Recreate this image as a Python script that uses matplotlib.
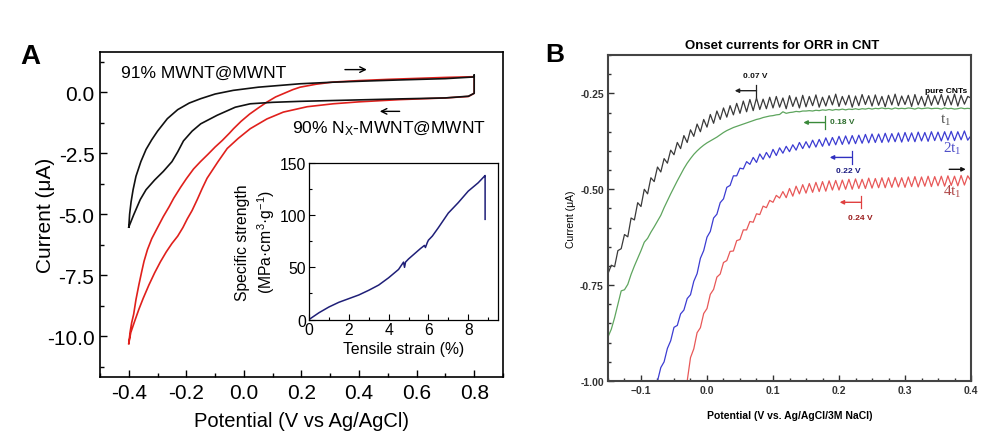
import numpy as np
import matplotlib
matplotlib.use("Agg")
import matplotlib.pyplot as plt
from matplotlib.ticker import MultipleLocator

plt.rcParams['font.family'] = ['Liberation Sans', 'DejaVu Sans']
plt.rcParams['mathtext.default'] = 'regular'

# ---- Panel A: cyclic voltammograms (V vs Ag/AgCl, uA)
black_v = [-0.400, -0.397, -0.392, -0.385, -0.375, -0.358, -0.340, -0.320, -0.300, -0.266, -0.230,
           -0.190, -0.150, -0.100, -0.037, 0.050, 0.195, 0.300, 0.420, 0.550, 0.700, 0.800,
           0.800, 0.800, 0.780,
           0.700, 0.540, 0.400, 0.195, 0.100, 0.022, -0.030, -0.093, -0.150, -0.180, -0.210,
           -0.230, -0.250, -0.280, -0.310, -0.340, -0.360, -0.383, -0.400]
black_i = [-5.53, -5.0, -4.5, -4.0, -3.45, -2.85, -2.35, -1.95, -1.6, -1.09, -0.72,
           -0.45, -0.27, -0.08, 0.07, 0.2, 0.34, 0.40, 0.45, 0.5, 0.55, 0.62,
           0.70, -0.05, -0.17,
           -0.24, -0.28, -0.32, -0.38, -0.42, -0.48, -0.62, -0.95, -1.3, -1.6, -2.0,
           -2.45, -2.85, -3.25, -3.6, -4.0, -4.4, -5.03, -5.53]

red_v = [-0.400, -0.395, -0.390, -0.383, -0.375, -0.365, -0.355, -0.347, -0.335, -0.320, -0.301,
         -0.280, -0.260, -0.244, -0.220, -0.200, -0.175, -0.151, -0.125, -0.100, -0.075, -0.050,
         -0.036, -0.010, 0.020, 0.050, 0.080, 0.110, 0.140, 0.170, 0.195, 0.250, 0.310, 0.400,
         0.500, 0.600, 0.700, 0.800,
         0.800, 0.800, 0.780,
         0.700, 0.540, 0.400, 0.310, 0.220, 0.137, 0.080, 0.022, -0.020, -0.058, -0.090, -0.128,
         -0.145, -0.162, -0.180, -0.197, -0.212, -0.230, -0.250, -0.270, -0.290, -0.310, -0.330,
         -0.350, -0.365, -0.380, -0.393, -0.400]
red_i = [-10.3, -9.8, -9.45, -9.1, -8.5, -7.9, -7.35, -6.93, -6.45, -6.0, -5.57,
         -5.1, -4.7, -4.35, -3.9, -3.55, -3.15, -2.85, -2.55, -2.25, -1.98, -1.68,
         -1.5, -1.2, -0.9, -0.65, -0.41, -0.2, -0.05, 0.1, 0.2, 0.32, 0.41, 0.47,
         0.52, 0.56, 0.6, 0.63,
         0.66, -0.05, -0.18,
         -0.24, -0.31, -0.40, -0.48, -0.60, -0.82, -1.10, -1.50, -1.90, -2.31, -2.85, -3.53,
         -3.95, -4.4, -4.85, -5.2, -5.55, -5.9, -6.2, -6.55, -6.95, -7.4, -7.9,
         -8.45, -8.9, -9.4, -9.85, -10.3]

# inset: specific strength vs tensile strain
strain = [0, 0.5, 1.0, 1.5, 2.0, 2.5, 3.0, 3.5, 4.0, 4.5, 4.75, 4.8, 4.85, 5.0, 5.3, 5.6,
          5.8, 5.85, 5.95, 6.0, 6.2, 6.5, 7.0, 7.5, 8.0, 8.5, 8.8, 8.85, 8.85]
strength = [0, 6.5, 12, 16.5, 20, 23.5, 28, 33, 40, 48, 55, 50, 55, 58, 63, 68,
            71, 69, 74, 76, 80, 88, 102, 112, 123, 131, 137, 138, 96]

# ---- Panel B: onset currents (V vs Ag/AgCl/3M NaCl, uA), 5 mV sampling
step = 0.005
pure_start = -0.150
pure_cnt = [-0.720, -0.698, -0.702, -0.660, -0.655, -0.618, -0.624, -0.575, -0.580, -0.535,
            -0.545, -0.500, -0.512, -0.470, -0.480, -0.442, -0.455, -0.420, -0.432, -0.398,
            -0.410, -0.378, -0.394, -0.360, -0.378, -0.345, -0.362, -0.330, -0.350, -0.318,
            -0.338, -0.305, -0.328, -0.296, -0.318, -0.288, -0.312, -0.282, -0.306, -0.276,
            -0.302, -0.270, -0.298, -0.266, -0.295, -0.262, -0.292, -0.265, -0.290, -0.260,
            -0.288, -0.258, -0.286, -0.262, -0.290, -0.256, -0.284, -0.260, -0.288, -0.255,
            -0.285, -0.258, -0.282, -0.254, -0.286, -0.260, -0.283, -0.256, -0.280, -0.252,
            -0.284, -0.258, -0.280, -0.255, -0.286, -0.257, -0.282, -0.253, -0.279, -0.256,
            -0.283, -0.254, -0.281, -0.258, -0.285, -0.255, -0.280, -0.252, -0.282, -0.257,
            -0.279, -0.255, -0.284, -0.253, -0.280, -0.258, -0.283, -0.254, -0.281, -0.256,
            -0.279, -0.253, -0.282, -0.256, -0.280, -0.252, -0.283, -0.255, -0.278, -0.258, -0.262]
t1_start = -0.150
t1 = [-0.885, -0.865, -0.835, -0.800, -0.765, -0.762, -0.748, -0.722, -0.700, -0.680,
      -0.660, -0.638, -0.628, -0.612, -0.598, -0.583, -0.568, -0.548, -0.530, -0.512,
      -0.495, -0.478, -0.462, -0.446, -0.432, -0.420, -0.409, -0.400, -0.392, -0.385,
      -0.379, -0.374, -0.369, -0.364, -0.358, -0.352, -0.347, -0.343, -0.339, -0.336,
      -0.333, -0.330, -0.327, -0.324, -0.321, -0.318, -0.316, -0.313, -0.311, -0.309,
      -0.308, -0.306, -0.305, -0.298, -0.302, -0.300, -0.299, -0.297, -0.298, -0.296,
      -0.296, -0.295, -0.296, -0.294, -0.295, -0.293, -0.294, -0.292, -0.294, -0.292,
      -0.293, -0.291, -0.293, -0.291, -0.292, -0.290, -0.292, -0.290, -0.291, -0.289,
      -0.291, -0.289, -0.290, -0.288, -0.290, -0.289, -0.291, -0.288, -0.290, -0.289,
      -0.290, -0.288, -0.289, -0.291, -0.288, -0.290, -0.289, -0.288, -0.290, -0.289,
      -0.289, -0.291, -0.288, -0.290, -0.289, -0.291, -0.290, -0.288, -0.290, -0.289, -0.290]
t2_start = -0.075
t2 = [-1.000, -0.965, -0.950, -0.915, -0.895, -0.860, -0.855, -0.825, -0.815, -0.785,
      -0.775, -0.740, -0.720, -0.680, -0.660, -0.625, -0.610, -0.575, -0.565, -0.535,
      -0.525, -0.495, -0.490, -0.465, -0.465, -0.445, -0.447, -0.428, -0.435, -0.417,
      -0.430, -0.408, -0.422, -0.404, -0.418, -0.396, -0.412, -0.392, -0.406, -0.388,
      -0.402, -0.384, -0.398, -0.378, -0.394, -0.376, -0.392, -0.372, -0.390, -0.370,
      -0.388, -0.366, -0.386, -0.365, -0.384, -0.362, -0.383, -0.361, -0.382, -0.360,
      -0.381, -0.359, -0.380, -0.357, -0.379, -0.356, -0.378, -0.356, -0.378, -0.354,
      -0.377, -0.355, -0.376, -0.353, -0.377, -0.352, -0.375, -0.353, -0.376, -0.351,
      -0.374, -0.352, -0.375, -0.350, -0.373, -0.351, -0.374, -0.350, -0.372, -0.349,
      -0.373, -0.350, -0.371, -0.348, -0.372, -0.360]
t4_start = -0.030
t4 = [-1.000, -0.939, -0.916, -0.874, -0.861, -0.824, -0.811, -0.774, -0.761, -0.729,
      -0.721, -0.691, -0.686, -0.662, -0.661, -0.634, -0.631, -0.606, -0.606, -0.584,
      -0.586, -0.564, -0.566, -0.544, -0.548, -0.529, -0.534, -0.516, -0.523, -0.506,
      -0.522, -0.498, -0.518, -0.492, -0.512, -0.488, -0.510, -0.485, -0.508, -0.482,
      -0.506, -0.480, -0.505, -0.478, -0.502, -0.477, -0.502, -0.476, -0.500, -0.474,
      -0.500, -0.473, -0.498, -0.474, -0.498, -0.471, -0.497, -0.472, -0.496, -0.470,
      -0.496, -0.470, -0.495, -0.469, -0.494, -0.470, -0.495, -0.468, -0.493, -0.467,
      -0.494, -0.468, -0.492, -0.466, -0.493, -0.467, -0.491, -0.466, -0.492, -0.465,
      -0.490, -0.466, -0.491, -0.464, -0.489, -0.465, -0.478]

# onset markers: bar potential, current, label, label position, line colour, text colour
onsets = [(0.075, -0.243, "0.07 V", (0.073, -0.204), '#222222', '#111111'),
          (0.179, -0.326, "0.18 V", (0.186, -0.323), '#3a8a3a', '#2e6e2e'),
          (0.219, -0.417, "0.22 V", (0.214, -0.452), '#3030c0', '#1a1a80'),
          (0.234, -0.534, "0.24 V", (0.232, -0.574), '#e04040', '#9a1c1c')]

fig = plt.figure(figsize=(9.87, 4.35), dpi=100)

# ================= Panel A =================
ax = fig.add_axes([0.1013, 0.131, 0.4083, 0.7471])
ax.plot(red_v, red_i, color='#e0201c', lw=1.2)
ax.plot(black_v, black_i, color='#111111', lw=1.2)
ax.set_xlim(-0.5, 0.9)
ax.set_ylim(-11.67, 1.64)
ax.xaxis.set_minor_locator(MultipleLocator(0.1))
ax.yaxis.set_minor_locator(MultipleLocator(1.25))
ax.set_xticks([-0.4, -0.2, 0.0, 0.2, 0.4, 0.6, 0.8])
ax.set_xticklabels(['-0.4', '-0.2', '0.0', '0.2', '0.4', '0.6', '0.8'])
ax.set_yticks([-10.0, -7.5, -5.0, -2.5, 0.0])
ax.set_yticklabels(['-10.0', '-7.5', '-5.0', '-2.5', '0.0'])
ax.tick_params(which='both', direction='in', labelsize=15, pad=4, width=1)
ax.tick_params(which='major', length=5)
ax.tick_params(which='minor', length=3)
for s in ax.spines.values():
    s.set_linewidth(1.2)
ax.set_xlabel("Potential (V vs Ag/AgCl)", fontsize=14.5, labelpad=7)
ax.set_ylabel("Current (\u03bcA)", fontsize=15, labelpad=-6)

ax.text(-0.428, 0.79, "91% MWNT@MWNT", fontsize=12.5, va='center', ha='left')
ax.text(0.167, -1.46, "90% N$_X$-MWNT@MWNT", fontsize=12.5, va='center', ha='left')
ax.annotate('', xy=(0.427, 0.92), xytext=(0.351, 0.92),
            arrowprops=dict(arrowstyle='->', color='black', lw=1, shrinkA=0, shrinkB=0))
ax.annotate('', xy=(0.472, -0.79), xytext=(0.541, -0.79),
            arrowprops=dict(arrowstyle='->', color='black', lw=1, shrinkA=0, shrinkB=0))
fig.text(20 / 987, 1 - 57 / 435, "A", fontsize=20, fontweight='bold', va='center')

# inset
axi = fig.add_axes([0.3131, 0.2632, 0.1915, 0.3598])
axi.plot(strain, strength, color='#1f1f78', lw=1.1)
axi.set_xlim(0, 9.5)
axi.set_ylim(0, 150)
axi.xaxis.set_major_locator(MultipleLocator(2))
axi.xaxis.set_minor_locator(MultipleLocator(1))
axi.yaxis.set_major_locator(MultipleLocator(50))
axi.yaxis.set_minor_locator(MultipleLocator(25))
axi.tick_params(which='both', direction='in', labelsize=11.3, pad=2, width=0.8)
axi.tick_params(which='major', length=4)
axi.tick_params(which='minor', length=2)
for s in axi.spines.values():
    s.set_linewidth(0.9)
axi.set_xlabel("Tensile strain (%)", fontsize=11.3, labelpad=3)
axi.set_ylabel("Specific strength\n(MPa\u00b7cm$^{3}$\u00b7g$^{-1}$)", fontsize=11.3,
               labelpad=2, linespacing=1.3)

# ================= Panel B =================
bx = fig.add_axes([0.616, 0.1218, 0.3678, 0.7494])
curves = [(pure_start, pure_cnt, '#3a3a3a'), (t1_start, t1, '#5ea55e'),
          (t2_start, t2, '#3c3cd2'), (t4_start, t4, '#e85858')]
for start, vals, col in curves:
    x = start + step * np.arange(len(vals))
    bx.plot(x, vals, color=col, lw=0.9)
bx.set_xlim(-0.15, 0.4)
bx.set_ylim(-1.0, -0.15)
bx.xaxis.set_major_locator(MultipleLocator(0.1))
bx.xaxis.set_minor_locator(MultipleLocator(0.025))
bx.set_yticks([-1.0, -0.75, -0.5, -0.25])
bx.set_yticklabels(['-1.00', '-0.75', '-0.50', '-0.25'])
bx.yaxis.set_minor_locator(MultipleLocator(0.05))
bx.tick_params(which='both', direction='in', labelsize=7.5, pad=3, width=1, colors='#333333')
bx.tick_params(which='major', length=4)
bx.tick_params(which='minor', length=2.5)
for lab in bx.get_xticklabels() + bx.get_yticklabels():
    lab.set_fontweight('bold')
for s in bx.spines.values():
    s.set_linewidth(1.5)
    s.set_color('#444444')
bx.set_title("Onset currents for ORR in CNT", fontsize=9.5, fontweight='bold', pad=5, x=0.48)
bx.set_xlabel("Potential (V vs. Ag/AgCl/3M NaCl)", fontsize=7.5, fontweight='bold', labelpad=11)
bx.set_ylabel("Current (\u03bcA)", fontsize=7.5, labelpad=3)

for xb, yb, lab, (tx, ty), col, tcol in onsets:
    bx.plot([xb, xb], [yb - 0.016, yb + 0.016], color=col, lw=0.9)
    bx.annotate('', xy=(xb - 0.033, yb), xytext=(xb, yb),
                arrowprops=dict(arrowstyle='-|>', color=col, lw=1, mutation_scale=6,
                                shrinkA=0, shrinkB=0))
    ha = 'left' if lab == "0.18 V" else 'center'
    bx.text(tx, ty, lab, fontsize=6, fontweight='bold', color=tcol, ha=ha, va='center')

bx.text(0.394, -0.243, "pure CNTs", fontsize=6, fontweight='bold', ha='right', va='center')
bx.text(0.361, -0.317, "t$_1$", fontsize=11, color='#555555', family='Liberation Serif',
        ha='center', va='center')
bx.text(0.371, -0.391, "2t$_1$", fontsize=11, color='#5050c8', family='Liberation Serif',
        ha='center', va='center')
bx.text(0.372, -0.504, "4t$_1$", fontsize=11, color='#b04848', family='Liberation Serif',
        ha='center', va='center')
bx.annotate('', xy=(0.392, -0.448), xytext=(0.367, -0.448),
            arrowprops=dict(arrowstyle='-|>', color='#111111', lw=1, mutation_scale=6,
                            shrinkA=0, shrinkB=0))
fig.text(545 / 987, 1 - 55 / 435, "B", fontsize=19, fontweight='bold', va='center')

fig.savefig("out.png", dpi=100)
